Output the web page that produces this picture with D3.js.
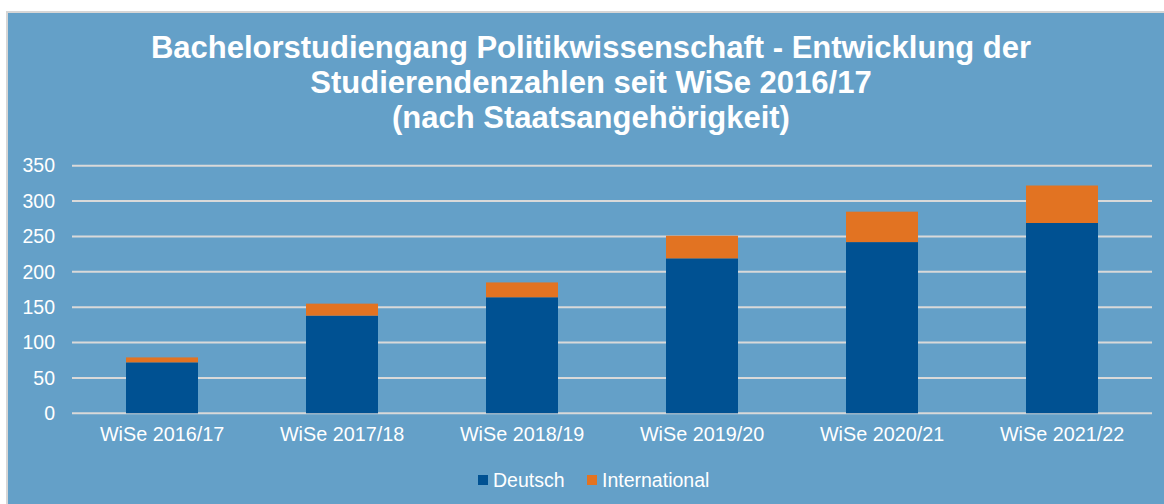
<!DOCTYPE html>
<html>
<head>
<meta charset="utf-8">
<script src="https://cdn.jsdelivr.net/npm/d3@7"></script>
<style>
  body { margin: 0; background: #fff; }
  svg { display: block; font-family: "Liberation Sans", Arial, sans-serif; }
</style>
</head>
<body>
<svg id="chart" width="1164" height="504"></svg>
<script>
// data
var semesters = ["WiSe 2016/17", "WiSe 2017/18", "WiSe 2018/19", "WiSe 2019/20", "WiSe 2020/21", "WiSe 2021/22"];
var deutsch = [72, 138, 164, 219, 242, 269];
var international = [7, 17, 21, 32, 43, 53];
var seriesNames = ["Deutsch", "International"];
var yTicks = [0, 50, 100, 150, 200, 250, 300, 350];
var titleLines = ["Bachelorstudiengang Politikwissenschaft - Entwicklung der",
                  "Studierendenzahlen seit WiSe 2016/17",
                  "(nach Staatsangehörigkeit)"];

var colors = {Deutsch: "#005192", International: "#e27322"};
var bg = "#64a0c8";

var svg = d3.select("#chart");

// frame
svg.append("rect")
  .attr("x", 7).attr("y", 12)
  .attr("width", 1170).attr("height", 500)
  .attr("fill", bg)
  .attr("stroke", "#d6d6d6").attr("stroke-width", 2);

// title
svg.append("g").selectAll("text")
  .data(titleLines)
  .enter().append("text")
  .attr("x", 591)
  .attr("y", function(d, i) { return 47 + i * 35; })
  .attr("dy", "0.35em")
  .attr("text-anchor", "middle")
  .attr("fill", "#fff")
  .attr("font-weight", "bold")
  .attr("font-size", "31px")
  .text(function(d) { return d; });

var xScale = d3.scaleBand().domain(semesters).range([72, 1152]).paddingInner(0.6).paddingOuter(0.3);
var yScale = d3.scaleLinear().domain([0, 350]).range([413.3, 165.7]);

// gridlines
svg.append("g").selectAll("line")
  .data(yTicks)
  .enter().append("line")
  .attr("x1", 72).attr("x2", 1152)
  .attr("y1", function(d) { return yScale(d); })
  .attr("y2", function(d) { return yScale(d); })
  .attr("stroke", "#d9d9d9")
  .attr("stroke-width", 2);

// y axis labels
var yAxis = svg.append("g")
  .attr("transform", "translate(64,0)")
  .call(d3.axisLeft(yScale).tickValues(yTicks).tickSize(0).tickPadding(9));
yAxis.select(".domain").remove();
yAxis.selectAll("text").attr("fill", "#fff").attr("font-size", "19.5px").attr("font-family", null);

// x axis labels
var xAxis = svg.append("g")
  .attr("transform", "translate(0,413.3)")
  .call(d3.axisBottom(xScale).tickSize(0).tickPadding(14));
xAxis.select(".domain").remove();
xAxis.selectAll("text").attr("fill", "#fff").attr("font-size", "19.8px").attr("font-family", null);

// stacked bars
var table = semesters.map(function(s, i) {
  return {semester: s, Deutsch: deutsch[i], International: international[i]};
});
var stacked = d3.stack().keys(seriesNames)(table);

svg.append("g").selectAll("g")
  .data(stacked)
  .enter().append("g")
  .attr("fill", function(d) { return colors[d.key]; })
  .selectAll("rect")
  .data(function(d) { return d; })
  .enter().append("rect")
  .attr("x", function(d) { return xScale(d.data.semester); })
  .attr("width", xScale.bandwidth())
  .attr("y", function(d) { return yScale(d[1]); })
  .attr("height", function(d) { return yScale(d[0]) - yScale(d[1]); });

// legend
var legendX = [478, 587];
var legend = svg.append("g").selectAll("g")
  .data(seriesNames)
  .enter().append("g")
  .attr("transform", function(d, i) { return "translate(" + legendX[i] + ",480)"; });
legend.append("rect")
  .attr("x", 0).attr("y", -5)
  .attr("width", 10).attr("height", 10)
  .attr("fill", function(d) { return colors[d]; });
legend.append("text")
  .attr("x", 15)
  .attr("dy", "0.35em")
  .attr("fill", "#fff")
  .attr("font-size", "19.5px")
  .text(function(d) { return d; });
</script>
</body>
</html>
